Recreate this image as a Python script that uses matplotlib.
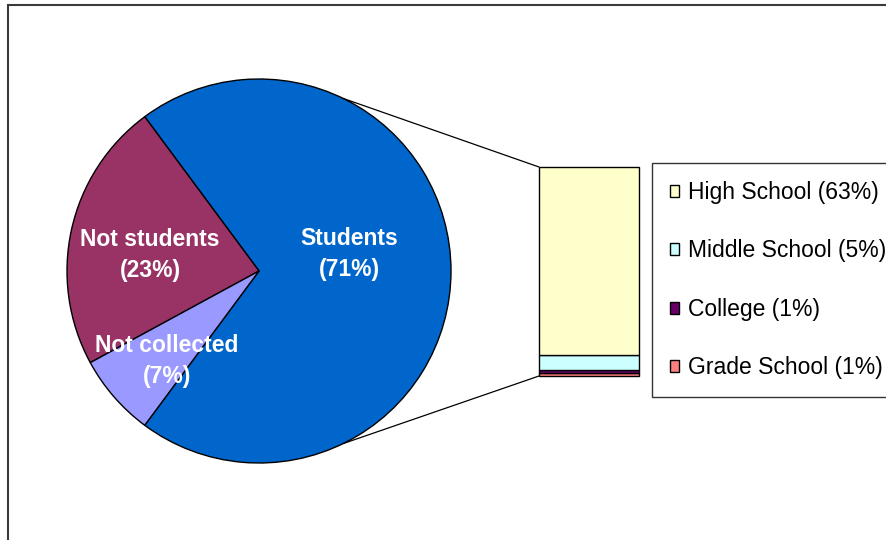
import matplotlib.pyplot as plt
from matplotlib.patches import ConnectionPatch, Rectangle
import numpy as np

plt.rcParams['font.family'] = ['Liberation Sans', 'DejaVu Sans']

# respondents split, the "Students" wedge is broken down in the bar
pie_labels = ['Students', 'Not students', 'Not collected']
pie_values = [71, 23, 7]
pie_colors = ['#0066CC', '#993366', '#9999FF']

# bar is stacked bottom-up, legend lists it top-down
bar_labels = ['Grade School', 'College', 'Middle School', 'High School']
bar_values = [1, 1, 5, 63]
bar_colors = ['#FF8080', '#660066', '#CCFFFF', '#FFFFCC']

W, H = 887, 540
fig = plt.figure(figsize=(W / 100, H / 100), dpi=100)
fig.patch.set_facecolor('white')

ax = fig.add_axes([0, 0, 1, 1])
cx, cy, r = 259, 269, 192
start = -180 * pie_values[0] / sum(pie_values)
wedges, _ = ax.pie(pie_values, colors=pie_colors, startangle=start,
                   center=(cx, cy), radius=r,
                   wedgeprops=dict(edgecolor='black', linewidth=1.0))
ax.set_xlim(0, W)
ax.set_ylim(0, H)
ax.axis('off')

# wedge labels
lab_pos = [(349, H - 254), (150, H - 255), (167, H - 361)]
for name, v, (x, y) in zip(pie_labels, pie_values, lab_pos):
    ax.text(x, y, f'{name}\n({v}%)', color='white', fontsize=16.5,
            fontweight='bold', ha='center', va='center', linespacing=1.45)

# stacked bar of the students wedge
bax = fig.add_axes([539 / W, (H - 376) / H, 100 / W, 209 / H])
bottoms = np.concatenate([[0], np.cumsum(bar_values)[:-1]])
bars, names = [], []
for lab, v, b, c in zip(bar_labels, bar_values, bottoms, bar_colors):
    p = bax.bar(0, v, bottom=b, width=1, color=c, edgecolor='black',
                linewidth=1.0)[0]
    p.set_clip_on(False)
    bars.append(p)
    names.append(f'{lab} ({v}%)')
bax.set_xlim(-0.5, 0.5)
bax.set_ylim(0, sum(bar_values))
bax.axis('off')

# lines from the pie to the bar corners
a = np.deg2rad(64)
for sgn, ytop in [(1, sum(bar_values)), (-1, 0)]:
    con = ConnectionPatch(xyA=(cx + r * np.cos(a), cy + sgn * r * np.sin(a)),
                          coordsA=ax.transData, xyB=(-0.5, ytop),
                          coordsB=bax.transData, color='black', linewidth=0.9)
    fig.add_artist(con)

leg = fig.legend(bars[::-1], names[::-1],
                 loc='upper left', bbox_to_anchor=(652 / W, 1 - 163 / H),
                 borderaxespad=0, fontsize=16.5, frameon=True, fancybox=False,
                 edgecolor='black', handlelength=0.42, handleheight=0.42,
                 handletextpad=0.35, borderpad=0.78, labelspacing=1.55)
leg.get_frame().set_linewidth(1.0)

# outer chart frame
fig.add_artist(Rectangle((8 / W, -0.1), 1.2, 1.1 - 5 / H,
                         transform=fig.transFigure, fill=False,
                         edgecolor='#3a3a3a', linewidth=1.5))

fig.savefig('out.png', dpi=100)
